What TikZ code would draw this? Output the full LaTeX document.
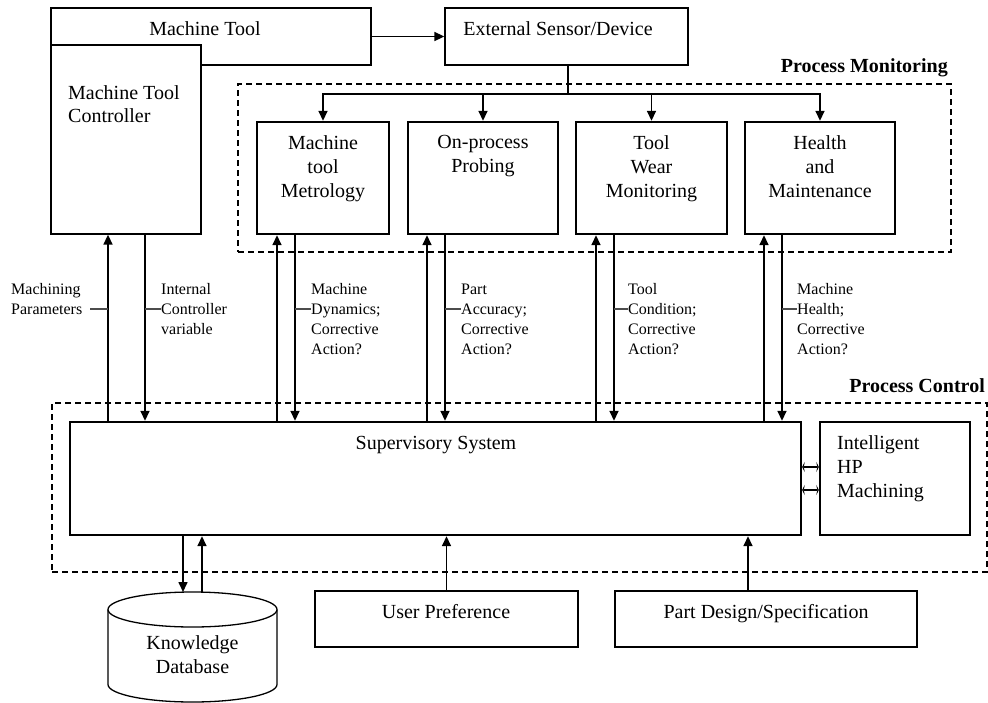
\documentclass[tikz,border=0pt]{standalone}
\usepackage{fontspec}
\setmainfont{Liberation Serif}
\usetikzlibrary{arrows.meta}
\begin{document}
\begin{tikzpicture}[x=1pt,y=-1pt,
  box/.style={draw,line width=1.3pt,inner sep=0pt,fill=white},
  tbox/.style={draw,line width=2.4pt,inner sep=0pt,fill=white},
  dbox/.style={draw,line width=1.3pt,dash pattern=on 6pt off 4pt,inner sep=0pt},
  txt/.style={font=\fontsize{20}{24}\selectfont,inner sep=0pt,align=center},
  ttl/.style={font=\fontsize{20}{24}\selectfont\bfseries,inner sep=0pt,anchor=east},
  lbl/.style={font=\fontsize{16}{20}\selectfont,inner sep=0pt,align=left,anchor=north west},
  conn/.style={line width=1.6pt},
  tick/.style={line width=1.2pt,black!70},
  arr/.style={conn,-{Triangle[length=10pt,width=9pt]}},
  darr/.style={line width=1.1pt,{Stealth[length=2.5pt,width=10pt,inset=1pt]}-{Stealth[length=2.5pt,width=10pt,inset=1pt]}}
]
\fill[white] (0,0) rectangle (988,702);
\useasboundingbox (0,0) rectangle (988,702);

% Machine tool and controller
\node[box,minimum width=320pt,minimum height=57pt] (mt) at (211,36.5) {};
\node[txt,anchor=north] (mtt) at (205,21.5) {Machine Tool};
\node[box,minimum width=150pt,minimum height=189pt] (mtc) at (126,139.5) {};
\node[txt,align=left,anchor=north west,font=\fontsize{20}{23}\selectfont] (mtct) at (68,85) {Machine Tool\\Controller};

% External sensor
\node[box,minimum width=243pt,minimum height=57pt] (ext) at (566.5,36.5) {};
\node[txt,anchor=north] (extt) at (558,21.5) {External Sensor/Device};

% Process monitoring
\node[dbox,minimum width=713pt,minimum height=168pt] (pm) at (594.5,168) {};
\node[ttl] (pmt) at (948,68) {Process Monitoring};

\node[tbox,minimum width=132pt,minimum height=112pt] (b1) at (323,178) {};
\node[txt,anchor=north] (b1t) at (323,135) {Machine\\tool\\Metrology};
\node[tbox,minimum width=150pt,minimum height=112pt] (b2) at (483,178) {};
\node[txt,anchor=north] (b2t) at (483,135) {On-process\\Probing};
\node[tbox,minimum width=151pt,minimum height=112pt] (b3) at (651.5,178) {};
\node[txt,anchor=north] (b3t) at (651.5,135) {Tool\\Wear\\Monitoring};
\node[tbox,minimum width=150pt,minimum height=112pt] (b4) at (820,178) {};
\node[txt,anchor=north] (b4t) at (820,135) {Health\\and\\Maintenance};

% Process control
\node[dbox,minimum width=935pt,minimum height=169pt] (pc) at (519.5,487.5) {};
\node[ttl] (pct) at (985,386) {Process Control};
\node[tbox,minimum width=731pt,minimum height=113pt] (sup) at (435.5,478.5) {};
\node[txt,anchor=north] (supt) at (436,436) {Supervisory System};
\node[tbox,minimum width=150pt,minimum height=113pt] (ihp) at (895,478.5) {};
\node[txt,align=left,anchor=north west] (ihpt) at (837,435) {Intelligent\\HP\\Machining};

% Bottom inputs
\node[box,minimum width=263pt,minimum height=56pt] (up) at (446.5,619) {};
\node[txt,anchor=north] (upt) at (446,604) {User Preference};
\node[box,minimum width=302pt,minimum height=56pt] (pd) at (766,619) {};
\node[txt,anchor=north] (pdt) at (766,604) {Part Design/Specification};

% Knowledge database cylinder
\draw[line width=1.3pt,fill=white] (108,609.5) -- (108,684.5)
  arc[start angle=180,end angle=0,x radius=84.5,y radius=17.5] -- (277,609.5);
\draw[line width=1.3pt,fill=white] (192.5,609.5) ellipse [x radius=84.5,y radius=17.5];
\coordinate (kdb) at (192.5,592);
\node[txt,anchor=north] (kdbt) at (192.5,635) {Knowledge\\Database};

% Connectors top
\draw[arr] (mt.east) -- (ext.west);
\coordinate (split) at (568,94);
\draw[conn] (ext.south -| split) -- (split);
\draw[arr] (split) -| (b1.north);
\draw[arr] (split) -| (b2.north);
\draw[arr] (split) -| (b3.north);
\draw[arr] (split) -| (b4.north);

% Vertical pairs
\draw[arr] (sup.north -| 108,0) -- (mtc.south -| 108,0);
\draw[arr] (mtc.south -| 145,0) -- (sup.north -| 145,0);
\draw[arr] (sup.north -| 277,0) -- (b1.south -| 277,0);
\draw[arr] (b1.south -| 295,0) -- (sup.north -| 295,0);
\draw[arr] (sup.north -| 427,0) -- (b2.south -| 427,0);
\draw[arr] (b2.south -| 445,0) -- (sup.north -| 445,0);
\draw[arr] (sup.north -| 596,0) -- (b3.south -| 596,0);
\draw[arr] (b3.south -| 614,0) -- (sup.north -| 614,0);
\draw[arr] (sup.north -| 764,0) -- (b4.south -| 764,0);
\draw[arr] (b4.south -| 782,0) -- (sup.north -| 782,0);

% Labels with ticks
\node[lbl] (l0) at (11,283.5) {Machining\\Parameters};
\draw[tick] (90,309) -- (108,309);
\node[lbl] (l1) at (161,283.5) {Internal\\Controller\\variable};
\draw[tick] (145,309) -- (161,309);
\node[lbl] (l2) at (311,283.5) {Machine\\Dynamics;\\Corrective\\Action?};
\draw[tick] (295,309) -- (311,309);
\node[lbl] (l3) at (461,283.5) {Part\\Accuracy;\\Corrective\\Action?};
\draw[tick] (445,309) -- (461,309);
\node[lbl] (l4) at (628,283.5) {Tool\\Condition;\\Corrective\\Action?};
\draw[tick] (614,309) -- (628,309);
\node[lbl] (l5) at (797,283.5) {Machine\\Health;\\Corrective\\Action?};
\draw[tick] (782,309) -- (797,309);

% Supervisory <-> intelligent
\draw[darr] (sup.east |- 0,467) -- (ihp.west |- 0,467);
\draw[darr] (sup.east |- 0,490) -- (ihp.west |- 0,490);

% Bottom connectors
\draw[arr] (sup.south -| 183,0) -- (kdb -| 183,0);
\draw[arr] (kdb -| 202,0) -- (sup.south -| 202,0);
\draw[arr] (up.north) -- (sup.south -| up.north);
\draw[arr] (pd.north -| 748,0) -- (sup.south -| 748,0);
\end{tikzpicture}
\end{document}
